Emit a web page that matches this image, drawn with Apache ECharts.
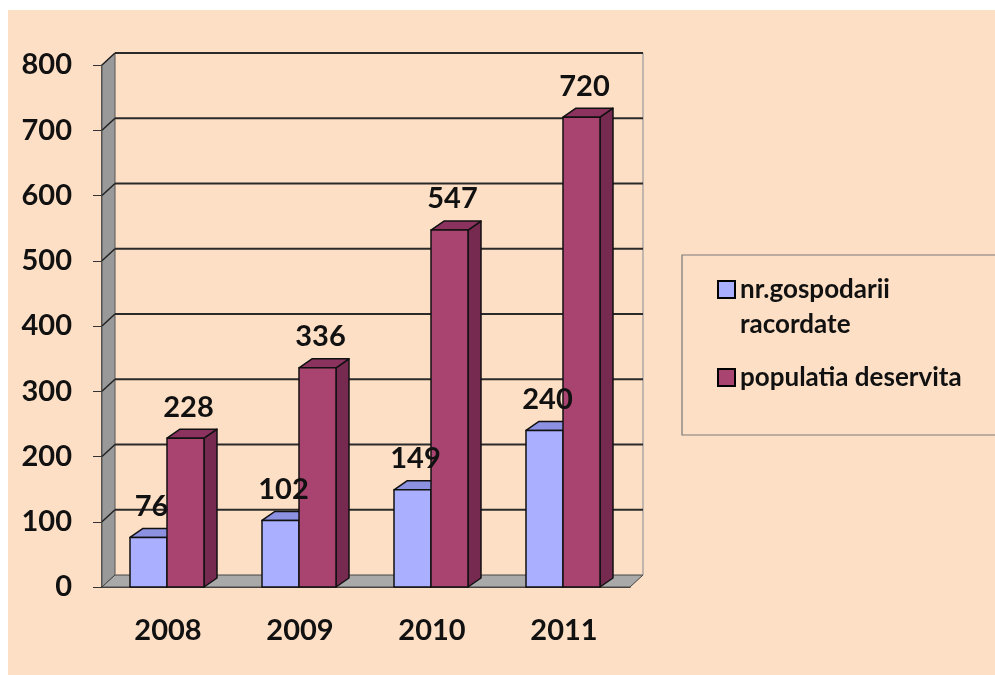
<!DOCTYPE html>
<html>
<head>
<meta charset="utf-8">
<script src="https://cdn.jsdelivr.net/npm/echarts@6/dist/echarts.min.js"></script>
<style>
  html, body { margin: 0; padding: 0; background: #fff; }
  #main { width: 995px; height: 675px; }
</style>
</head>
<body>
<div id="main"></div>
<script>
// date
var years = ['2008', '2009', '2010', '2011'];
var gospodarii = [76, 102, 149, 240];
var populatie = [228, 336, 547, 720];
var yTicks = [0, 100, 200, 300, 400, 500, 600, 700, 800];
var seriesNames = ['nr.gospodarii racordate', 'populatia deservita'];

var FONT = 'Lato';
var DX = 13, DY = -12;      // adancime pereti
var BDX = 13, BDY = -9;     // adancime bare

var colors = [
  { front: '#AAB0FF', top: '#8C91E2', side: '#7C80CC' },
  { front: '#A8446F', top: '#8B335E', side: '#772A50' }
];

function barItem(idx) {
  return function (params, api) {
    var cat = api.value(0), val = api.value(1);
    var p = api.coord([cat, val]);
    var p0 = api.coord([cat, 0]);
    var cx = p[0];
    var x0 = idx === 0 ? cx - 38 : cx - 1;
    var x1 = idx === 0 ? cx - 1 : cx + 36;
    var yt = p[1], yb = p0[1];
    var c = colors[idx];
    var line = { stroke: '#111', lineWidth: 1.5, lineJoin: 'round' };
    return {
      type: 'group',
      children: [
        { type: 'polygon', shape: { points: [[x1, yt], [x1 + BDX, yt + BDY], [x1 + BDX, yb + BDY], [x1, yb]] },
          style: Object.assign({ fill: c.side }, line) },
        { type: 'polygon', shape: { points: [[x0, yt], [x0 + BDX, yt + BDY], [x1 + BDX, yt + BDY], [x1, yt]] },
          style: Object.assign({ fill: c.top }, line) },
        { type: 'rect', shape: { x: x0, y: yt, width: x1 - x0, height: yb - yt },
          style: Object.assign({ fill: c.front }, line) },
        { type: 'text', z2: 100,
          style: { x: (x0 + x1) / 2 + 3, y: yt - 31, text: String(val), align: 'center', verticalAlign: 'middle',
                   fontSize: 29, fontWeight: 'bold', fontFamily: FONT, fill: '#111' } }
      ]
    };
  };
}

var chart = echarts.init(document.getElementById('main'));
chart.setOption({
  backgroundColor: '#ffffff',
  animation: false,
  graphic: [
    { type: 'rect', z: -10, shape: { x: 8, y: 10, width: 1000, height: 700 }, style: { fill: '#FDDFC5' } },
    { type: 'rect', z: -5, shape: { x: 682, y: 255, width: 330, height: 180 },
      style: { fill: 'none', stroke: '#7a7a7a', lineWidth: 1.2 } }
  ],
  grid: { left: 102, right: 365, top: 65, bottom: 88 },
  legend: {
    orient: 'vertical',
    left: 712,
    top: 232,
    itemGap: 18,
    itemWidth: 17,
    itemHeight: 17,
    icon: 'rect',
    itemStyle: { borderColor: '#000', borderWidth: 2 },
    textStyle: { fontSize: 26, fontWeight: 'bold', fontFamily: FONT, color: '#111', lineHeight: 35 },
    formatter: function (name) {
      return name === seriesNames[0] ? '\nnr.gospodarii\nracordate' : name;
    },
    data: seriesNames
  },
  xAxis: {
    type: 'category',
    data: years,
    axisLine: { lineStyle: { color: '#111', width: 1.5 } },
    axisTick: { length: 11, lineStyle: { color: '#333' } },
    axisLabel: { margin: 29, fontSize: 29, fontWeight: 'bold', fontFamily: FONT, color: '#111' },
    splitLine: { show: false }
  },
  yAxis: {
    type: 'value',
    min: 0,
    max: 800,
    interval: 100,
    axisLine: { show: true, lineStyle: { color: '#222', width: 1.5 } },
    axisTick: { show: true, length: 9, lineStyle: { color: '#333' } },
    axisLabel: { margin: 30, fontSize: 29, fontWeight: 'bold', fontFamily: FONT, color: '#111' },
    splitLine: { show: false }
  },
  series: [
    {
      // pereti: lateral si podea
      type: 'custom',
      z: 1,
      silent: true,
      data: [[0, 0]],
      renderItem: function (params, api) {
        var cs = params.coordSys;
        var l = cs.x, t = cs.y, r = cs.x + cs.width, b = cs.y + cs.height;
        return {
          type: 'group',
          children: [
            { type: 'polygon', shape: { points: [[l, t], [l + DX, t + DY], [l + DX, b + DY], [l, b]] },
              style: { fill: '#999999', stroke: '#555', lineWidth: 1 } },
            { type: 'polygon', shape: { points: [[l, b], [r, b], [r + DX, b + DY], [l + DX, b + DY]] },
              style: { fill: '#A9A9A9', stroke: '#444', lineWidth: 1 } },
            { type: 'line', shape: { x1: r + DX, y1: t + DY, x2: r + DX, y2: b + DY },
              style: { stroke: '#9a9a9a', lineWidth: 1.2 } }
          ]
        };
      }
    },
    {
      // linii de grila pe peretele din spate
      type: 'custom',
      z: 1,
      silent: true,
      data: yTicks.map(function (v) { return [0, v]; }),
      renderItem: function (params, api) {
        var cs = params.coordSys;
        var y = api.coord([0, api.value(1)])[1];
        var l = cs.x, r = cs.x + cs.width;
        if (api.value(1) === 0) return null;
        return {
          type: 'group',
          children: [
            { type: 'line', shape: { x1: l, y1: y, x2: l + DX, y2: y + DY }, style: { stroke: '#222', lineWidth: 1.5 } },
            { type: 'line', shape: { x1: l + DX, y1: y + DY, x2: r + DX, y2: y + DY }, style: { stroke: '#2a2a2a', lineWidth: 1.8 } }
          ]
        };
      }
    },
    {
      name: seriesNames[0],
      type: 'custom',
      z: 3,
      itemStyle: { color: colors[0].front },
      data: years.map(function (y, i) { return [i, gospodarii[i]]; }),
      renderItem: barItem(0)
    },
    {
      name: seriesNames[1],
      type: 'custom',
      z: 3,
      itemStyle: { color: colors[1].front },
      data: years.map(function (y, i) { return [i, populatie[i]]; }),
      renderItem: barItem(1)
    }
  ]
});
</script>
</body>
</html>
